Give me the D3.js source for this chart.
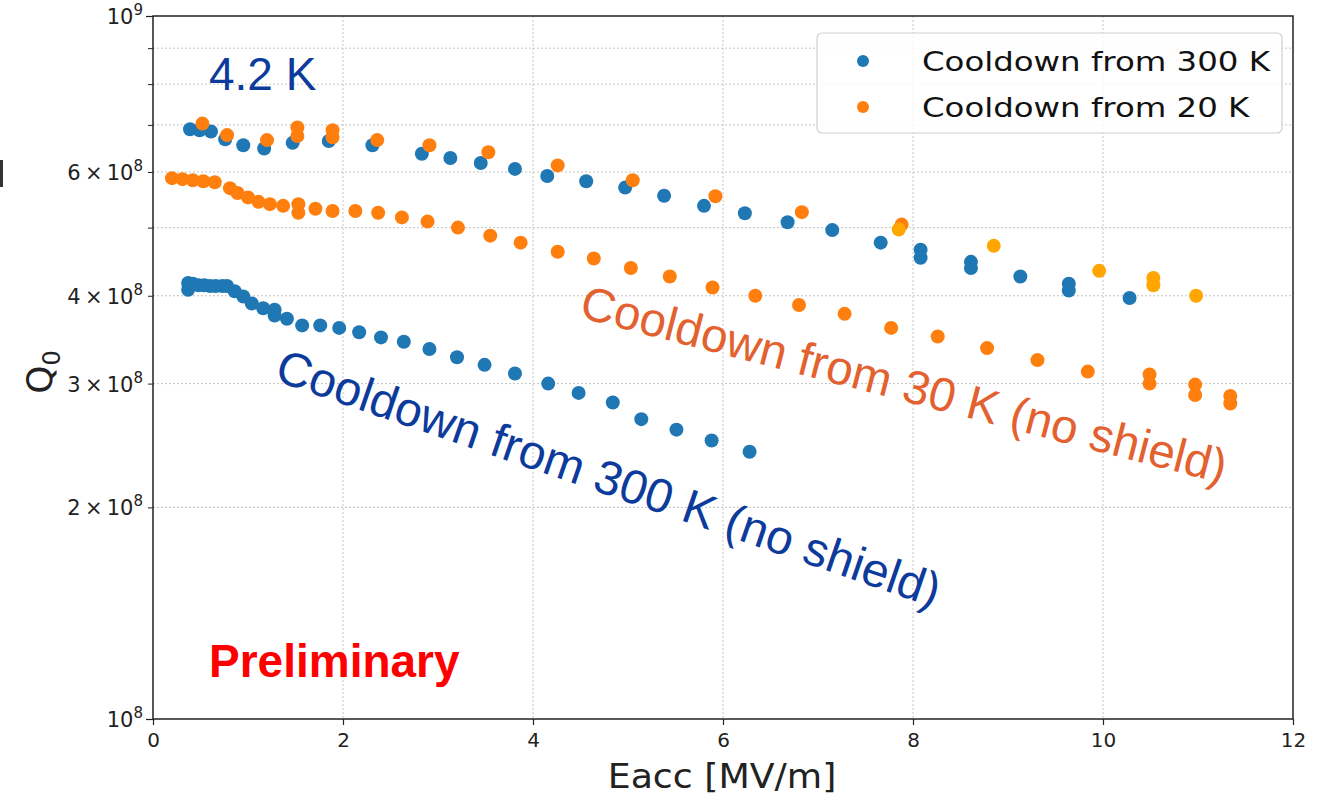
<!DOCTYPE html>
<html>
<head>
<meta charset="utf-8">
<script src="https://cdn.jsdelivr.net/npm/d3@7"></script>
<style>
  body { margin: 0; background: #fff; }
  svg { display: block; }
</style>
</head>
<body>
<div id="chart"></div>
<script>
// Eacc [MV/m] and Q0, 4.2 K
var eUp300 = [0.39, 0.49, 0.61, 0.76, 0.95, 1.17, 1.47, 1.85, 2.31, 2.83, 3.13, 3.45, 3.81, 4.15, 4.56, 4.97, 5.38, 5.8, 6.23, 6.68, 7.15, 7.66, 8.08, 8.08, 8.61, 8.61, 9.13, 9.64, 9.64, 10.28]
var qUp300 = [6.9e8, 6.88e8, 6.85e8, 6.68e8, 6.55e8, 6.48e8, 6.6e8, 6.64e8, 6.55e8, 6.37e8, 6.28e8, 6.18e8, 6.06e8, 5.92e8, 5.82e8, 5.7e8, 5.55e8, 5.37e8, 5.24e8, 5.09e8, 4.96e8, 4.76e8, 4.65e8, 4.53e8, 4.47e8, 4.38e8, 4.26e8, 4.16e8, 4.07e8, 3.97e8]

var eUp20 = [0.52, 0.78, 1.2, 1.52, 1.52, 1.89, 1.89, 2.36, 2.91, 3.53, 4.26, 5.05, 5.92, 6.83, 7.88]
var qUp20 = [7.03e8, 6.77e8, 6.66e8, 6.94e8, 6.75e8, 6.88e8, 6.72e8, 6.66e8, 6.55e8, 6.4e8, 6.13e8, 5.84e8, 5.54e8, 5.26e8, 5.05e8]

// same cooldown, last points drawn in a lighter orange
var eUp20b = [7.85, 8.85, 9.96, 10.53, 10.53, 10.98]
var qUp20b = [4.97e8, 4.71e8, 4.34e8, 4.24e8, 4.14e8, 4.0e8]

var eLow300 = [0.37, 0.37, 0.42, 0.48, 0.54, 0.6, 0.66, 0.73, 0.78, 0.86, 0.95, 1.04, 1.16, 1.28, 1.28, 1.41, 1.57, 1.76, 1.96, 2.17, 2.4, 2.64, 2.91, 3.2, 3.49, 3.81, 4.16, 4.48, 4.84, 5.14, 5.51, 5.88, 6.28]
var qLow300 = [4.17e8, 4.08e8, 4.16e8, 4.14e8, 4.14e8, 4.13e8, 4.13e8, 4.13e8, 4.13e8, 4.06e8, 3.99e8, 3.9e8, 3.84e8, 3.82e8, 3.75e8, 3.71e8, 3.63e8, 3.63e8, 3.6e8, 3.55e8, 3.49e8, 3.44e8, 3.36e8, 3.27e8, 3.19e8, 3.1e8, 3.0e8, 2.91e8, 2.82e8, 2.67e8, 2.58e8, 2.49e8, 2.4e8]

var eLow30 = [0.2, 0.31, 0.42, 0.53, 0.65, 0.81, 0.89, 1.0, 1.11, 1.23, 1.37, 1.53, 1.53, 1.71, 1.89, 2.13, 2.37, 2.62, 2.89, 3.21, 3.55, 3.87, 4.26, 4.64, 5.03, 5.44, 5.89, 6.34, 6.8, 7.28, 7.77, 8.26, 8.78, 9.31, 9.84, 10.49, 10.49, 10.97, 10.97, 11.34, 11.34]
var qLow30 = [5.88e8, 5.86e8, 5.84e8, 5.82e8, 5.8e8, 5.69e8, 5.6e8, 5.52e8, 5.44e8, 5.4e8, 5.37e8, 5.4e8, 5.25e8, 5.32e8, 5.28e8, 5.28e8, 5.25e8, 5.17e8, 5.1e8, 5.0e8, 4.87e8, 4.76e8, 4.62e8, 4.52e8, 4.38e8, 4.26e8, 4.11e8, 4.0e8, 3.88e8, 3.77e8, 3.6e8, 3.5e8, 3.37e8, 3.24e8, 3.12e8, 3.09e8, 3.0e8, 2.99e8, 2.89e8, 2.88e8, 2.81e8]

var xTicks = [0, 2, 4, 6, 8, 10, 12]
var yGrid = [2e8, 3e8, 4e8, 5e8, 6e8, 7e8, 8e8, 9e8]
var yLabels = [[1e8, '', '10', '8'], [2e8, '2', '10', '8'], [3e8, '3', '10', '8'], [4e8, '4', '10', '8'], [6e8, '6', '10', '8'], [1e9, '', '10', '9']]
var legendNames = ['Cooldown from 300 K', 'Cooldown from 20 K']

var blue = '#1f77b4', orange = '#ff7f0e', lightOrange = '#ffa600'

var width = 1327, height = 796
var pl = 153, pr = 1293, pt = 16, pb = 719
var r = 7

var svg = d3.select('#chart').append('svg')
    .attr('width', width)
    .attr('height', height)

var x = d3.scaleLinear().domain([0, 12]).range([pl, pr])
var y = d3.scaleLog().domain([1e8, 1e9]).range([pb, pt])

// grid
svg.append('g').selectAll('line').data(xTicks.slice(1, -1)).enter().append('line')
    .attr('x1', function(d) { return x(d) }).attr('x2', function(d) { return x(d) })
    .attr('y1', pt).attr('y2', pb)
    .attr('stroke', '#c4c4c4').attr('stroke-width', 1).attr('stroke-dasharray', '2,2')

svg.append('g').selectAll('line').data(yGrid).enter().append('line')
    .attr('x1', pl).attr('x2', pr)
    .attr('y1', function(d) { return y(d) }).attr('y2', function(d) { return y(d) })
    .attr('stroke', '#c4c4c4').attr('stroke-width', 1).attr('stroke-dasharray', '2,2')

// axes
var xAxis = d3.axisBottom(x).tickValues(xTicks).tickSize(6).tickPadding(8).tickFormat(d3.format('d'))
var gx = svg.append('g').attr('transform', 'translate(0,' + pb + ')').call(xAxis)
    .attr('font-family', 'DejaVu Sans').attr('font-size', 20)
gx.select('.domain').remove()
gx.selectAll('line').attr('stroke', '#222').attr('stroke-width', 1.2)
gx.selectAll('text').attr('fill', '#222')

var yMinor = d3.axisLeft(y).tickValues(yGrid).tickSize(5).tickFormat('')
var gy = svg.append('g').attr('transform', 'translate(' + pl + ',0)').call(yMinor)
gy.select('.domain').remove()
gy.selectAll('line').attr('stroke', '#222').attr('stroke-width', 1)

var yMajor = d3.axisLeft(y).tickValues([1e8, 1e9]).tickSize(7).tickFormat('')
var gy2 = svg.append('g').attr('transform', 'translate(' + pl + ',0)').call(yMajor)
gy2.select('.domain').remove()
gy2.selectAll('line').attr('stroke', '#222').attr('stroke-width', 1.2)

var yl = svg.append('g').selectAll('text').data(yLabels).enter().append('text')
    .attr('x', 143)
    .attr('y', function(d) { return y(d[0]) + 8 })
    .attr('text-anchor', 'end')
    .attr('font-family', 'DejaVu Sans').attr('font-size', 21).attr('fill', '#222')
yl.each(function(d) {
    var t = d3.select(this)
    if (d[1]) t.append('tspan').text(d[1] + '\u2009\u00d7\u2009')
    t.append('tspan').text(d[2])
    t.append('tspan').attr('dy', -9).attr('font-size', 15).text(d[3])
})

svg.append('rect')
    .attr('x', pl).attr('y', pt)
    .attr('width', pr - pl).attr('height', pb - pt)
    .attr('fill', 'none').attr('stroke', '#222').attr('stroke-width', 1.5)

// axis titles
svg.append('text')
    .attr('transform', 'translate(722,788) scale(1.1,1)')
    .attr('text-anchor', 'middle')
    .attr('font-family', 'DejaVu Sans').attr('font-size', 33).attr('fill', '#222')
    .text('Eacc [MV/m]')

var qt = svg.append('text')
    .attr('transform', 'translate(52,372) rotate(-90)')
    .attr('text-anchor', 'middle')
    .attr('font-family', 'DejaVu Sans').attr('font-size', 36).attr('fill', '#222')
qt.append('tspan').text('Q')
qt.append('tspan').attr('dy', 8).attr('font-size', 24).text('0')

// points
function dots(es, qs, color) {
    svg.append('g').selectAll('circle').data(es).enter().append('circle')
        .attr('cx', function(d) { return x(d) })
        .attr('cy', function(d, i) { return y(qs[i]) })
        .attr('r', r)
        .attr('fill', color)
}
dots(eLow300, qLow300, blue)
dots(eLow30, qLow30, orange)
dots(eUp300, qUp300, blue)
dots(eUp20, qUp20, orange)
dots(eUp20b, qUp20b, lightOrange)

// legend
var lg = svg.append('g')
lg.append('rect')
    .attr('x', 817).attr('y', 33).attr('width', 465).attr('height', 100).attr('rx', 5)
    .attr('fill', '#fff').attr('fill-opacity', 0.85).attr('stroke', '#cfcfcf').attr('stroke-width', 1.2)
legendNames.forEach(function(name, i) {
    var cy = 61 + i * 46
    lg.append('circle').attr('cx', 863).attr('cy', cy).attr('r', 6).attr('fill', i === 0 ? blue : orange)
    lg.append('text')
        .attr('transform', 'translate(922,' + (cy + 10) + ') scale(1.2,1)')
        .attr('font-family', 'DejaVu Sans').attr('font-size', 27).attr('fill', '#111')
        .text(name)
})

// annotations
svg.append('text')
    .attr('x', 209).attr('y', 90)
    .attr('font-family', 'Liberation Sans, Arial').attr('font-size', 46).attr('fill', '#0c3b9c')
    .text('4.2 K')

svg.append('text')
    .attr('x', 209).attr('y', 677)
    .attr('font-family', 'Liberation Sans, Arial').attr('font-size', 46).attr('font-weight', 'bold').attr('fill', '#ff0000')
    .text('Preliminary')

svg.append('text')
    .attr('transform', 'translate(578,317) rotate(14.5)')
    .attr('font-family', 'Liberation Sans, Arial').attr('font-size', 47.5).attr('fill', '#e2612f')
    .text('Cooldown from 30 K (no shield)')

svg.append('text')
    .attr('transform', 'translate(273,380) rotate(19)')
    .attr('font-family', 'Liberation Sans, Arial').attr('font-size', 48).attr('fill', '#0c3b9c')
    .text('Cooldown from 300 K (no shield)')

// stray mark at the left edge
svg.append('rect').attr('x', 0).attr('y', 160).attr('width', 3).attr('height', 27).attr('fill', '#333')
</script>
</body>
</html>
